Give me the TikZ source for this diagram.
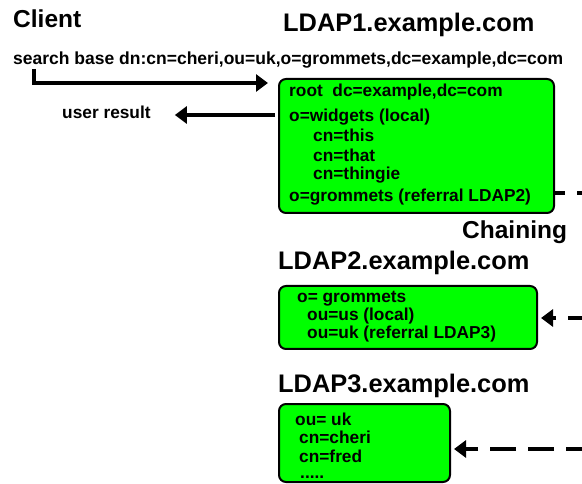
\documentclass[tikz,border=0pt]{standalone}
\usepackage{fontspec}
\setmainfont{Liberation Sans}
\usetikzlibrary{arrows.meta,calc}
\definecolor{ldapgreen}{RGB}{0,255,0}
\tikzset{
  lbl/.style={font=\bfseries\fontsize{17.3}{20}\selectfont, anchor=base west, inner sep=0pt},
  ttl/.style={font=\bfseries\fontsize{24.5}{28}\selectfont, anchor=base west, inner sep=0pt},
  host/.style={font=\bfseries\fontsize{25.4}{28}\selectfont, anchor=base west, inner sep=0pt},
  srv/.style={draw, line width=2pt, rounded corners=7pt, fill=ldapgreen, anchor=north west, inner sep=0pt},
  tip/.style={-{Triangle[length=12pt,width=17pt]}},
  flow/.style={line width=4pt, tip},
  chain/.style={line width=4pt, dash pattern=on 26pt off 12pt},
}
\begin{document}
\begin{tikzpicture}[x=1pt,y=-1pt]
\useasboundingbox (0,0) rectangle (582,484);

% headings
\node[ttl] (client) at (13,28) {Client};
\node[host] (t1) at (283,31.5) {LDAP1.example.com};
\node[ttl] (chaining) at (462,239) {Chaining};
\node[host] (t2) at (278,270) {LDAP2.example.com};
\node[host] (t3) at (278,392) {LDAP3.example.com};

% client side
\node[lbl, font=\bfseries\fontsize{17.5}{20}\selectfont] (search) at (13,65) {search base dn:cn=cheri,ou=uk,o=grommets,dc=example,dc=com};
\node[lbl] (result) at (62,119) {user result};

% directory servers
\node[srv, minimum width=275pt, minimum height=134pt] (box1) at (278,78) {};
\node[srv, minimum width=258pt, minimum height=63pt] (box2) at (278,285) {};
\node[srv, minimum width=171pt, minimum height=78pt] (box3) at (278,403) {};

% LDAP1 entries
\node[lbl] (b1a) at (289,97) {root~~dc=example,dc=com};
\node[lbl] (b1b) at (289,122) {o=widgets (local)};
\node[lbl] (b1c) at (313,142) {cn=this};
\node[lbl] (b1d) at (313,162) {cn=that};
\node[lbl] (b1e) at (313,180) {cn=thingie};
\node[lbl] (b1f) at (289,202) {o=grommets (referral LDAP2)};

% LDAP2 entries
\node[lbl] (b2a) at (297,302) {o= grommets};
\node[lbl] (b2b) at (307,320) {ou=us (local)};
\node[lbl] (b2c) at (307,338) {ou=uk (referral LDAP3)};

% LDAP3 entries
\node[lbl] (b3a) at (295,425) {ou= uk};
\node[lbl] (b3b) at (299,443) {cn=cheri};
\node[lbl] (b3c) at (299,462) {cn=fred};
\node[lbl] (b3d) at (300,478) {.....};

% request and answer
\coordinate (qend) at (268,83);
\coordinate (resrow) at (0,115);
\draw[flow] ($(search.south west)+(21,0)$) |- (qend);
\draw[flow] ($(box1.west |- resrow)+(-3,0)$) -- ($(result.east |- resrow)+(24,0)$);

% chaining links
\coordinate (c1row) at (0,193);
\coordinate (c1out) at (600,193);
\coordinate (c2out) at (594,318);
\coordinate (c3out) at (592,449);
\draw[chain, dash phase=16pt] (box1.east |- c1row) -- (c1out);
\draw[chain, tip, shorten >=3pt] (c2out) -- (box2.east |- c2out);
\draw[chain, tip, shorten >=3pt] (c3out) -- (box3.east |- c3out);
\end{tikzpicture}
\end{document}
